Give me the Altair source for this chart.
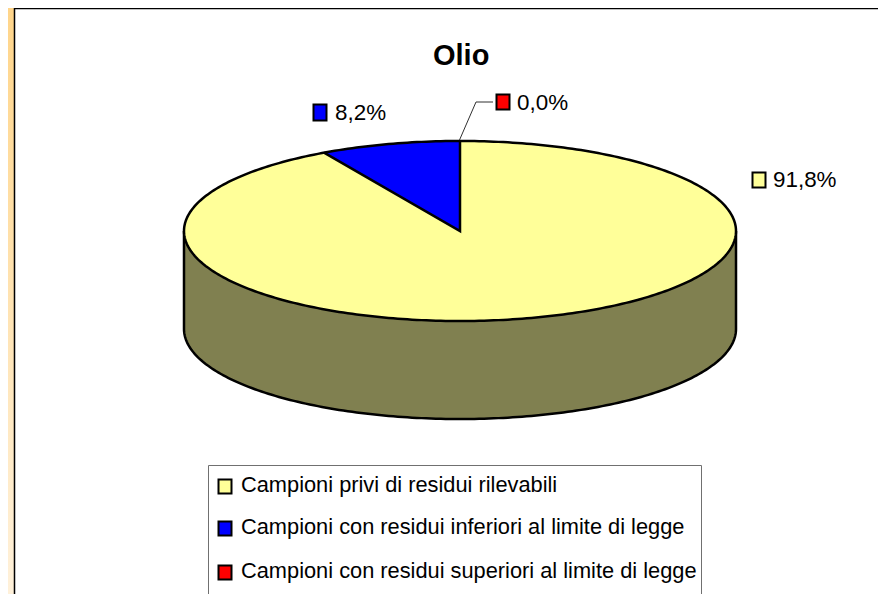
import numpy as np
import pandas as pd
import altair as alt

categories = ["Campioni privi di residui rilevabili",
              "Campioni con residui inferiori al limite di legge",
              "Campioni con residui superiori al limite di legge"]
values = [91.8, 8.2, 0.0]
value_labels = ["91,8%", "8,2%", "0,0%"]
slice_colors = ["#FFFF99", "#0000FF", "#FF0000"]
title_text = "Olio"

# layout of the picture, in the page's pixels
W, H = 878, 594
CX, CY, RX, RY, DEPTH = 460, 231, 276, 90, 98
FONT = "Liberation Sans"
X = alt.Scale(domain=[8, W], nice=False, zero=False)
Y = alt.Scale(domain=[H, 8], nice=False, zero=False)


def xe(f="x", **k):
    return alt.X(f"{f}:Q", scale=X, axis=None, **k)


def ye(f="y", **k):
    return alt.Y(f"{f}:Q", scale=Y, axis=None, **k)


def rim(a, dy=0.0):
    """a: clockwise angle from 12 o'clock, degrees"""
    r = np.radians(a)
    return CX + RX * np.sin(r), CY + dy - RY * np.cos(r)


def rect(x0, y0, x1, y1, **mark):
    d = pd.DataFrame({"x": [x0], "y": [y0], "x2": [x1], "y2": [y1]})
    return alt.Chart(d).mark_rect(**mark).encode(
        x=xe(), y=ye(), x2="x2:Q", y2="y2:Q")


def poly_line(xs, ys, **mark):
    d = pd.DataFrame({"x": xs, "y": ys, "i": range(len(xs))})
    return alt.Chart(d).mark_line(**mark).encode(
        x=xe(), y=ye(), order="i:Q")


def area(xs, ys, y2s, color):
    d = pd.DataFrame({"x": xs, "y": ys, "y2": y2s})
    return alt.Chart(d).mark_area(color=color, opacity=1).encode(
        x=xe(), y=ye(), y2="y2:Q")


def text(t, x, y, size, weight="normal"):
    d = pd.DataFrame({"t": [t], "x": [x], "y": [y]})
    return alt.Chart(d).mark_text(align="left", baseline="alphabetic", font=FONT,
                                  fontSize=size, fontWeight=weight, color="black").encode(
        x=xe(), y=ye(), text="t:N")


layers = []
# page background and frame
layers.append(rect(8, 8, W, H, fill=alt.LinearGradient(
    gradient="linear", x1=0, y1=0, x2=0, y2=1,
    stops=[alt.GradientStop(offset=0, color="#FFD58A"),
           alt.GradientStop(offset=1, color="#FFF1DA")])))
layers.append(rect(14.5, 8.5, W + 5, H + 5, fill="white", stroke="black", strokeWidth=1.5))

# front wall
front = np.linspace(90, 270, 181)
fx, fy = rim(front)
_, fb = rim(front, DEPTH)
layers.append(area(fx, fb, fy, "#808050"))
layers.append(poly_line(
    np.r_[fx[0], fx, fx[-1]], np.r_[fy[0], fb, fy[-1]], color="black", strokeWidth=2.5))

# top ellipse
full = np.linspace(-90, 90, 181)
tx, ty = rim(full)
_, tb = rim(180 - full)
layers.append(area(tx, ty, tb, slice_colors[0]))

# wedge of the second slice: it runs anticlockwise from 12 o'clock
span = values[1] / sum(values) * 360
arc = np.linspace(-span, 0, 41)
ax, ay = rim(arc)
chord = CY + (ax - CX) * (ay[0] - CY) / (ax[0] - CX)
layers.append(area(ax, ay, chord, slice_colors[1]))

# outlines
whole = np.linspace(0, 360, 361)
wx, wy = rim(whole)
layers.append(poly_line(wx, wy, color="black", strokeWidth=2.5))
layers.append(poly_line([ax[0], CX, CX], [ay[0], CY, ay[-1]], color="black", strokeWidth=2.5))

# leader line of the empty slice
layers.append(poly_line([459.5, 476, 493], [140, 102, 102], color="#303030", strokeWidth=1))

# data labels
key_boxes = [(752.5, 172.5, 765.5, 187.5), (313.5, 104.5, 326.5, 120.5), (496.5, 94.5, 509.5, 109.5)]
label_pos = [(773, 187), (335, 119.5), (517, 109.5)]
for lab, col, b, p in zip(value_labels, slice_colors, key_boxes, label_pos):
    layers.append(rect(*b, fill=col, stroke="black", strokeWidth=2))
    layers.append(text(lab, p[0], p[1], 22.4))

# title
layers.append(text(title_text, 433, 65, 29, "bold"))

# legend
layers.append(rect(208.5, 465.5, 701.5, H + 5, fill="white", stroke="#707070", strokeWidth=1))
key_y = [479.5, 521.5, 565.5]
for cat, col, ky in zip(categories, slice_colors, key_y):
    layers.append(rect(218.5, ky, 231.5, ky + 14, fill=col, stroke="black", strokeWidth=2))
    layers.append(text(cat, 241, ky + 12, 21.8))

chart = alt.layer(*layers).properties(
    width=W - 8, height=H - 8, padding=0, autosize=alt.AutoSizeParams(type="none"),
    background="white"
).configure_view(stroke=None)

chart.save("out.html", embed_options={"renderer": "svg", "actions": False})
